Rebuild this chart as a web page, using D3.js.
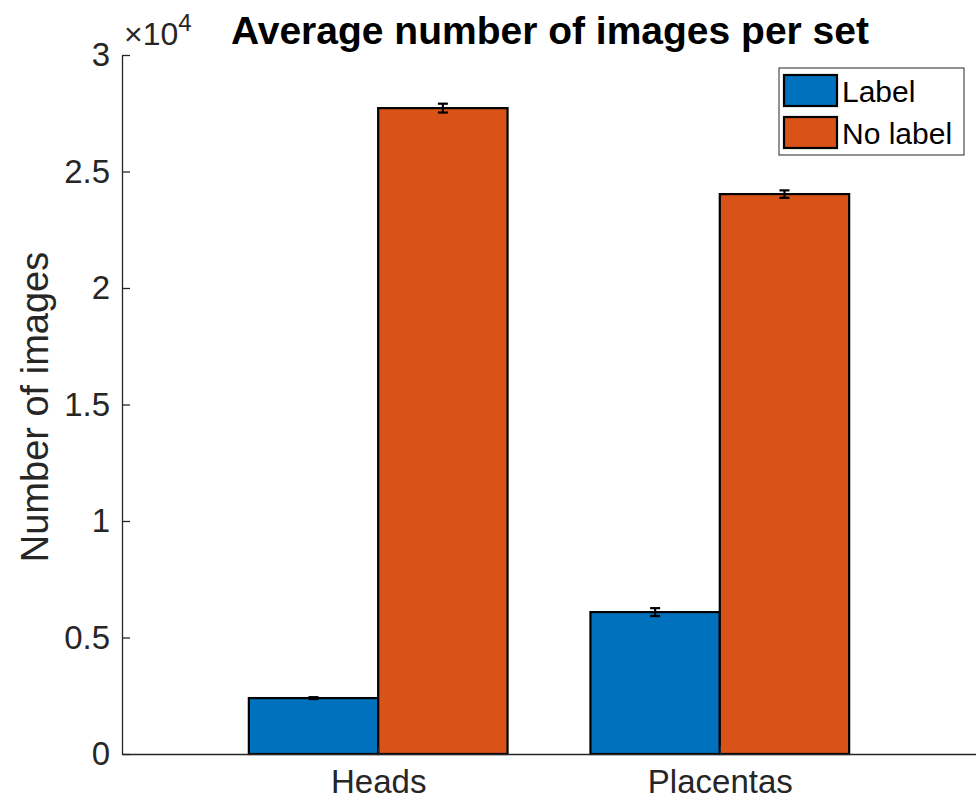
<!DOCTYPE html>
<html>
<head>
<meta charset="utf-8">
<script src="https://cdn.jsdelivr.net/npm/d3@7"></script>
<style>
  html, body { margin: 0; padding: 0; background: #fff; }
  svg { display: block; font-family: "Liberation Sans", Arial, Helvetica, sans-serif; }
</style>
</head>
<body>
<svg id="chart" width="976" height="805"></svg>
<script>
const categories = ["Heads", "Placentas"];
const seriesNames = ["Label", "No label"];
const labelValues = [2400, 6090];
const noLabelValues = [27720, 24030];
const labelErrors = [40, 170];
const noLabelErrors = [190, 160];
const yTickValues = [0, 5000, 10000, 15000, 20000, 25000, 30000];
const yTickLabels = ["0", "0.5", "1", "1.5", "2", "2.5", "3"];
const colors = ["#0072BD", "#D95319"];

const series = [
  { name: seriesNames[0], values: labelValues, errors: labelErrors, color: colors[0] },
  { name: seriesNames[1], values: noLabelValues, errors: noLabelErrors, color: colors[1] }
];

const svg = d3.select("#chart");
const axisColor = "#262626";

const x = d3.scaleLinear().domain([0.25, 2.75]).range([122, 976]);
const y = d3.scaleLinear().domain([0, 30000]).range([754, 55]);

const barW = 0.3787;
const offsets = [-0.1893, 0.1893];

// bars
series.forEach((s, si) => {
  const g = svg.append("g");
  g.selectAll("rect").data(s.values).enter().append("rect")
    .attr("x", (d, i) => x(i + 1 + offsets[si] - barW / 2))
    .attr("width", x(barW) - x(0))
    .attr("y", d => y(d))
    .attr("height", d => y(0) - y(d))
    .attr("fill", s.color)
    .attr("stroke", "#000")
    .attr("stroke-width", 2.2);
});

// error bars
series.forEach((s, si) => {
  const g = svg.append("g").attr("stroke", "#000").attr("stroke-width", 2.2);
  s.values.forEach((v, i) => {
    const cx = x(i + 1 + offsets[si]);
    const e = s.errors[i];
    g.append("line").attr("x1", cx).attr("x2", cx).attr("y1", y(v - e)).attr("y2", y(v + e));
    g.append("line").attr("x1", cx - 5).attr("x2", cx + 5).attr("y1", y(v - e)).attr("y2", y(v - e));
    g.append("line").attr("x1", cx - 5).attr("x2", cx + 5).attr("y1", y(v + e)).attr("y2", y(v + e));
  });
});

// y axis
const yAxis = d3.axisLeft(y).tickValues(yTickValues)
  .tickFormat((d, i) => yTickLabels[i]).tickSizeInner(-8).tickSizeOuter(0).tickPadding(12);
const gy = svg.append("g").attr("transform", "translate(122,0)").call(yAxis);
gy.select(".domain").attr("stroke", axisColor).attr("stroke-width", 1.3);
gy.selectAll(".tick line").attr("stroke", axisColor).attr("stroke-width", 1.3);
gy.selectAll(".tick text").attr("fill", axisColor).attr("font-size", 33)
  .attr("font-family", "Liberation Sans, Arial, sans-serif");

// x axis
const xAxis = d3.axisBottom(x).tickValues([1, 2])
  .tickFormat((d, i) => categories[i]).tickSizeInner(-8).tickSizeOuter(0).tickPadding(16);
const gx = svg.append("g").attr("transform", "translate(0,754)").call(xAxis);
gx.select(".domain").attr("stroke", axisColor).attr("stroke-width", 1.3);
gx.selectAll(".tick line").attr("stroke", axisColor).attr("stroke-width", 1.3);
gx.selectAll(".tick text").attr("fill", axisColor).attr("font-size", 33)
  .attr("font-family", "Liberation Sans, Arial, sans-serif");

// exponent label
const ex = svg.append("text").attr("x", 124).attr("y", 45).attr("fill", axisColor)
  .attr("font-size", 32);
ex.append("tspan").text("\u00d710");
ex.append("tspan").attr("font-size", 24).attr("dy", -14).text("4");

// title
svg.append("text").attr("x", 550).attr("y", 44).attr("text-anchor", "middle")
  .attr("font-size", 39).attr("font-weight", "bold").attr("fill", "#000")
  .text("Average number of images per set");

// y label
svg.append("text").attr("transform", "translate(48,407) rotate(-90)")
  .attr("text-anchor", "middle").attr("font-size", 38).attr("fill", axisColor)
  .text("Number of images");

// legend
const lg = svg.append("g");
lg.append("rect").attr("x", 779).attr("y", 68).attr("width", 185).attr("height", 87)
  .attr("fill", "#fff").attr("stroke", "#262626").attr("stroke-width", 1);
series.forEach((s, i) => {
  const ry = 75 + i * 42;
  lg.append("rect").attr("x", 784).attr("y", ry).attr("width", 53).attr("height", 31)
    .attr("fill", s.color).attr("stroke", "#000").attr("stroke-width", 2.2);
  lg.append("text").attr("x", 842).attr("y", ry + 27).attr("font-size", 30).attr("fill", "#000")
    .text(s.name);
});
</script>
</body>
</html>
